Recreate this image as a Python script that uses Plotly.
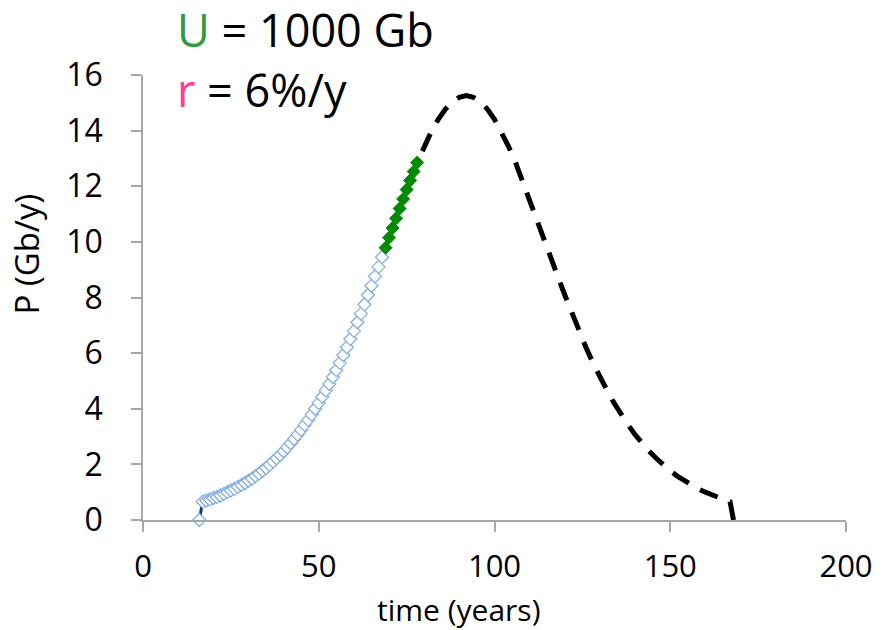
import plotly.graph_objects as go

# Production history (open diamonds), years 16..68
hist_years = list(range(16, 69))
hist_prod = [0.0,
             0.66, 0.70, 0.74, 0.79, 0.83, 0.88, 0.94, 1.00, 1.06, 1.12,
             1.19, 1.26, 1.33, 1.41, 1.49, 1.58, 1.67, 1.77, 1.87, 1.98,
             2.10, 2.22, 2.34, 2.47, 2.61, 2.76, 2.91, 3.07, 3.24, 3.42,
             3.60, 3.79, 4.00, 4.21, 4.43, 4.66, 4.89, 5.14, 5.39, 5.65,
             5.93, 6.21, 6.51, 6.80, 7.11, 7.42, 7.75, 8.09, 8.42, 8.76,
             9.10, 9.45]

# Fitting window (filled green diamonds)
fit_years = list(range(69, 79))
fit_prod = [9.79, 10.15, 10.50, 10.85, 11.20, 11.54, 11.88, 12.21, 12.53, 12.85]

# Projected production (dashed), listed from the tail back to the fit window
proj_years = [168, 167, 166, 164, 162, 160, 158, 156, 154, 152, 150, 148, 146,
              144, 142, 140, 138, 136, 134, 132, 130, 128, 126, 124, 122, 120,
              118, 116, 114, 112, 110, 108, 106, 104, 102, 100, 98, 96, 94, 92,
              90, 88, 86, 84, 82, 80, 78]
proj_prod = [0.0, 0.66, 0.70, 0.79, 0.88, 1.00, 1.12, 1.26, 1.41, 1.58, 1.77,
             1.98, 2.22, 2.47, 2.76, 3.07, 3.42, 3.79, 4.21, 4.66, 5.14, 5.65,
             6.21, 6.80, 7.42, 8.09, 8.76, 9.45, 10.15, 10.85, 11.54, 12.21,
             12.85, 13.43, 13.96, 14.41, 14.77, 15.04, 15.20, 15.26, 15.20,
             15.04, 14.77, 14.41, 13.96, 13.43, 12.85]

x_ticks = [0, 50, 100, 150, 200]
y_ticks = [0, 2, 4, 6, 8, 10, 12, 14, 16]

FONT = "Open Sans"
AXIS_GREY = "#a6a6a6"

fig = go.Figure()

# short dark connector at the start of the history
fig.add_trace(go.Scatter(
    x=hist_years[:2], y=hist_prod[:2], mode="lines",
    line=dict(color="#203864", width=3), cliponaxis=False, hoverinfo="skip"))

fig.add_trace(go.Scatter(
    x=proj_years, y=proj_prod, mode="lines",
    line=dict(color="black", width=5, dash="19px,13px"),
    cliponaxis=False))

fig.add_trace(go.Scatter(
    x=hist_years, y=hist_prod, mode="markers",
    marker=dict(symbol="diamond", size=10, color="white",
                line=dict(color="#84aee0", width=1.3)),
    cliponaxis=False))

fig.add_trace(go.Scatter(
    x=fit_years, y=fit_prod, mode="markers",
    marker=dict(symbol="diamond", size=10, color="#008a00",
                line=dict(color="#008a00", width=1)),
    cliponaxis=False))

axis_common = dict(
    showline=True, linecolor=AXIS_GREY, linewidth=1.5,
    ticks="outside", tickcolor=AXIS_GREY, tickwidth=1.5, ticklen=10,
    showgrid=False, zeroline=False,
    tickfont=dict(family=FONT, size=31, color="black"),
)

fig.update_xaxes(range=[0, 200], tickvals=x_ticks, ticklabelstandoff=8,
                 **axis_common)
fig.update_yaxes(range=[0, 16], tickvals=y_ticks, ticklabelstandoff=22,
                 tickfont=dict(family=FONT, size=32, color="black"),
                 **{k: v for k, v in axis_common.items() if k != "tickfont"})

L, R, T, B = 143, 36, 75, 110
W, H = 885, 630
pw, ph = W - L - R, H - T - B


def px_x(px):
    return (px - L) / pw


def px_y(py):
    return (H - B - py) / ph


annotations = [
    dict(text="time (years)", x=px_x(460), y=px_y(609), xanchor="center",
         yanchor="middle", font=dict(size=30)),
    dict(text="P (Gb/y)", x=px_x(25), y=px_y(254), xanchor="center",
         yanchor="middle", textangle=-90, font=dict(size=33)),
    dict(text="<span style='color:#2e9b3a'>U</span> = 1000 Gb",
         x=px_x(175), y=px_y(30), xanchor="left", yanchor="middle",
         font=dict(size=45)),
    dict(text="<span style='color:#ff3d94'>r</span> = 6%/y",
         x=px_x(175), y=px_y(89), xanchor="left", yanchor="middle",
         font=dict(size=45)),
]
for a in annotations:
    a.update(xref="paper", yref="paper", showarrow=False)
    a["font"].update(family=FONT, color="black")

fig.update_layout(
    width=W, height=H,
    margin=dict(l=L, r=R, t=T, b=B),
    paper_bgcolor="white", plot_bgcolor="white",
    showlegend=False,
    annotations=annotations,
)

fig.write_html("out.html")
